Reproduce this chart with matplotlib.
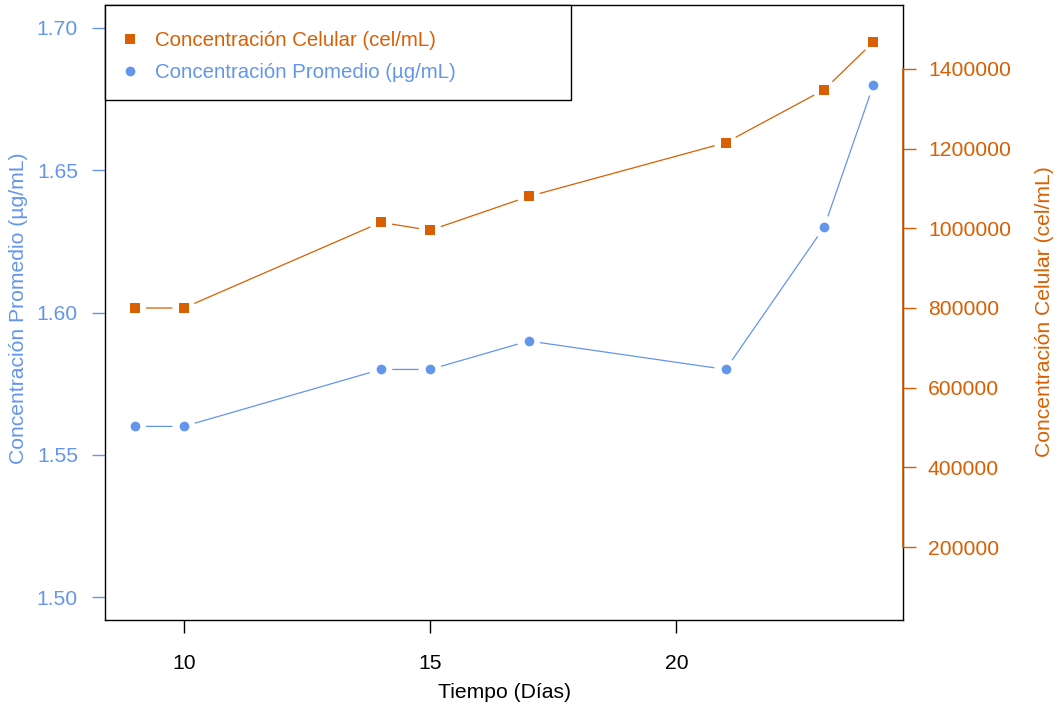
import matplotlib
matplotlib.use("Agg")
import matplotlib.pyplot as plt
from matplotlib.patches import Rectangle
from matplotlib.lines import Line2D

plt.rcParams['font.family'] = ['Liberation Sans', 'DejaVu Sans']

# Data
dias = [9, 10, 14, 15, 17, 21, 23, 24]
conc_promedio = [1.56, 1.56, 1.58, 1.58, 1.59, 1.58, 1.63, 1.68]
conc_celular = [800000, 800000, 1015000, 995000, 1080000, 1215000, 1348000, 1468000]
x_ticks = [10, 15, 20]
left_ticks = [1.50, 1.55, 1.60, 1.65, 1.70]
right_ticks = [200000, 400000, 600000, 800000, 1000000, 1200000, 1400000]

BLUE = '#6495ED'
ORANGE = '#D95F02'
W, H = 1058, 715
FS = 15.2
LFS = 14.7

fig = plt.figure(figsize=(W / 100, H / 100), dpi=100)
ax = fig.add_axes([105 / W, 1 - 620 / H, (903 - 105) / W, (620 - 5) / H])
ax2 = ax.twinx()

ax.set_xlim(8.4, 24.6)
ax.set_ylim(1.492, 1.708)
ax2.set_ylim(16800, 1560600)


def draw_series(a, xs, ys, color, marker, ms):
    # type="b": points with gapped connecting segments
    for i in range(len(xs) - 1):
        a.annotate('', xy=(xs[i + 1], ys[i + 1]), xytext=(xs[i], ys[i]),
                   xycoords='data', textcoords='data',
                   arrowprops=dict(arrowstyle='-', color=color, lw=0.9,
                                   shrinkA=8.5, shrinkB=8.5))
    return a.plot(xs, ys, linestyle='none', marker=marker, color=color,
                  markersize=ms, markeredgewidth=0)[0]


draw_series(ax, dias, conc_promedio, BLUE, 'o', 7.0)
draw_series(ax2, dias, conc_celular, ORANGE, 's', 7.0)

# Axes styling
for s in ax.spines.values():
    s.set_color('black')
    s.set_linewidth(1.0)
for name in ['left', 'top', 'bottom']:
    ax2.spines[name].set_visible(False)
ax2.spines['right'].set_color(ORANGE)
ax2.spines['right'].set_linewidth(1.2)
ax2.spines['right'].set_bounds(right_ticks[0], right_ticks[-1])

ax.set_xticks(x_ticks)
ax.set_xticklabels([str(v) for v in x_ticks])
ax.set_yticks(left_ticks)
ax.set_yticklabels([f'{v:.2f}' for v in left_ticks])
ax2.set_yticks(right_ticks)
ax2.set_yticklabels([str(v) for v in right_ticks])

ax.tick_params(axis='x', length=9.5, width=1.0, color='black', labelcolor='black',
               labelsize=FS, pad=15)
ax.tick_params(axis='y', length=9.5, width=1.0, color=BLUE, labelcolor=BLUE,
               labelsize=FS, pad=10)
ax2.tick_params(axis='y', length=9.5, width=1.0, color=ORANGE, labelcolor=ORANGE,
                labelsize=FS, pad=8.5)

# Axis titles
fig.text(504 / W, 1 - 693 / H, 'Tiempo (Días)', ha='center', va='center',
         fontsize=FS, color='black')
fig.text(19 / W, 1 - 308 / H, 'Concentración Promedio (µg/mL)', ha='center',
         va='center', rotation=90, fontsize=FS, color=BLUE)
fig.text(1044 / W, 1 - 312 / H, 'Concentración Celular (cel/mL)', ha='center',
         va='center', rotation=90, fontsize=FS, color=ORANGE)

# Legend box
box = Rectangle((105 / W, 1 - 100 / H), (571 - 105) / W, (100 - 5) / H,
                transform=fig.transFigure, facecolor='white', edgecolor='black',
                linewidth=1.0, zorder=5)
fig.patches.append(box)
handles = [
    Line2D([], [], linestyle='none', marker='s', color=ORANGE, markersize=7, markeredgewidth=0),
    Line2D([], [], linestyle='none', marker='o', color=BLUE, markersize=7, markeredgewidth=0),
]
labels = ['Concentración Celular (cel/mL)', 'Concentración Promedio (µg/mL)']
leg = fig.legend(handles, labels, loc='upper left',
                 bbox_to_anchor=(120 / W, 1 - 31 / H), frameon=False,
                 fontsize=LFS, handlelength=1.0, handletextpad=0.7,
                 labelspacing=0.64, borderaxespad=0, borderpad=0)
leg.set_zorder(6)
leg.get_texts()[0].set_color(ORANGE)
leg.get_texts()[1].set_color(BLUE)

fig.savefig('out.png', dpi=100)
